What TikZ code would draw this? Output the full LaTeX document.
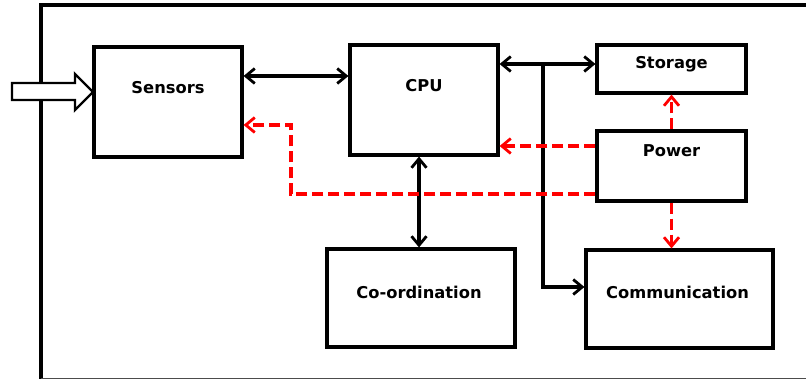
\documentclass[tikz,border=0pt]{standalone}
\usepackage{fontspec}
\setmainfont{DejaVu Sans}
\usetikzlibrary{arrows.meta}
\begin{document}
\begin{tikzpicture}[x=1pt,y=-1pt,
  box/.style={draw=black,line width=3.2pt,fill=white,inner sep=0pt,minimum width=#1},
  lbl/.style={font=\fontsize{16.3}{18}\selectfont\bfseries,inner sep=0pt,text=black},
  barb/.tip={Straight Barb[length=9pt,width=15pt,line width=2.8pt]},
  arr/.style={draw=black,line width=3.2pt,barb-barb},
  arrs/.style={draw=black,line width=3.2pt,-barb},
  pw/.style={draw=red,line width=3.2pt,dash pattern=on 11pt off 5pt,-{Straight Barb[length=9pt,width=15pt,line width=2.8pt]}}
]
\useasboundingbox (0,0) rectangle (806,379);
% outer frame
\draw[line width=3.2pt] (41,381) -- (41,5) -- (808,5);
\draw[line width=0.8pt,black!70] (41,378.4) -- (808,378.4);

% boxes
\node[box=148pt,minimum height=110pt] (sensors) at (168,102) {};
\node[box=148pt,minimum height=110pt] (cpu) at (424,100) {};
\node[box=149pt,minimum height=48pt] (storage) at (671.5,69) {};
\node[box=149pt,minimum height=70pt] (power) at (671.5,166) {};
\node[box=187pt,minimum height=98pt] (comm) at (679.5,299) {};
\node[box=188pt,minimum height=98pt] (coord) at (421,298) {};

% labels
\node[lbl] (sensorsL) at (168,88) {Sensors};
\node[lbl] (cpuL) at (424,86) {CPU};
\node[lbl] (storageL) at (671.5,64) {Storage};
\node[lbl] (powerL) at (671.5,151) {Power};
\node[lbl] (commL) at (677.5,292) {Communication};
\node[lbl] (coordL) at (419,292) {Co-ordination};

% helper coordinates
\coordinate (h76) at (0,76);
\coordinate (h64) at (0,64);
\coordinate (h287) at (0,287);
\coordinate (h146) at (0,146);
\coordinate (h194) at (0,194);
\coordinate (h125) at (0,125);
\coordinate (v419) at (419,0);
\coordinate (j) at (543,64);
\coordinate (bendA) at (291,194);
\coordinate (bendB) at (291,125);

% black connectors
\draw[arr] (sensors.east |- h76) -- (cpu.west |- h76);
\draw[arr] (cpu.east |- h64) -- (storage.west |- h64);
\draw[arrs] (j) |- (comm.west |- h287);
\draw[arr] (cpu.south -| v419) -- (coord.north -| v419);

% red dashed power connectors
\draw[pw] (power.west |- h146) -- (cpu.east |- h146);
\draw[pw] (power.west |- h194) -- (bendA) -- (bendB) -- (sensors.east |- h125);
\draw[pw] (power.north) -- (storage.south);
\draw[pw] (power.south) -- (comm.north -| power.south);

% input block arrow
\draw[line width=2.4pt,fill=white,line join=miter]
  (12,83) -- (75,83) -- (75,74) -- (93,92) -- (75,110) -- (75,100) -- (12,100) -- cycle;
\end{tikzpicture}
\end{document}
